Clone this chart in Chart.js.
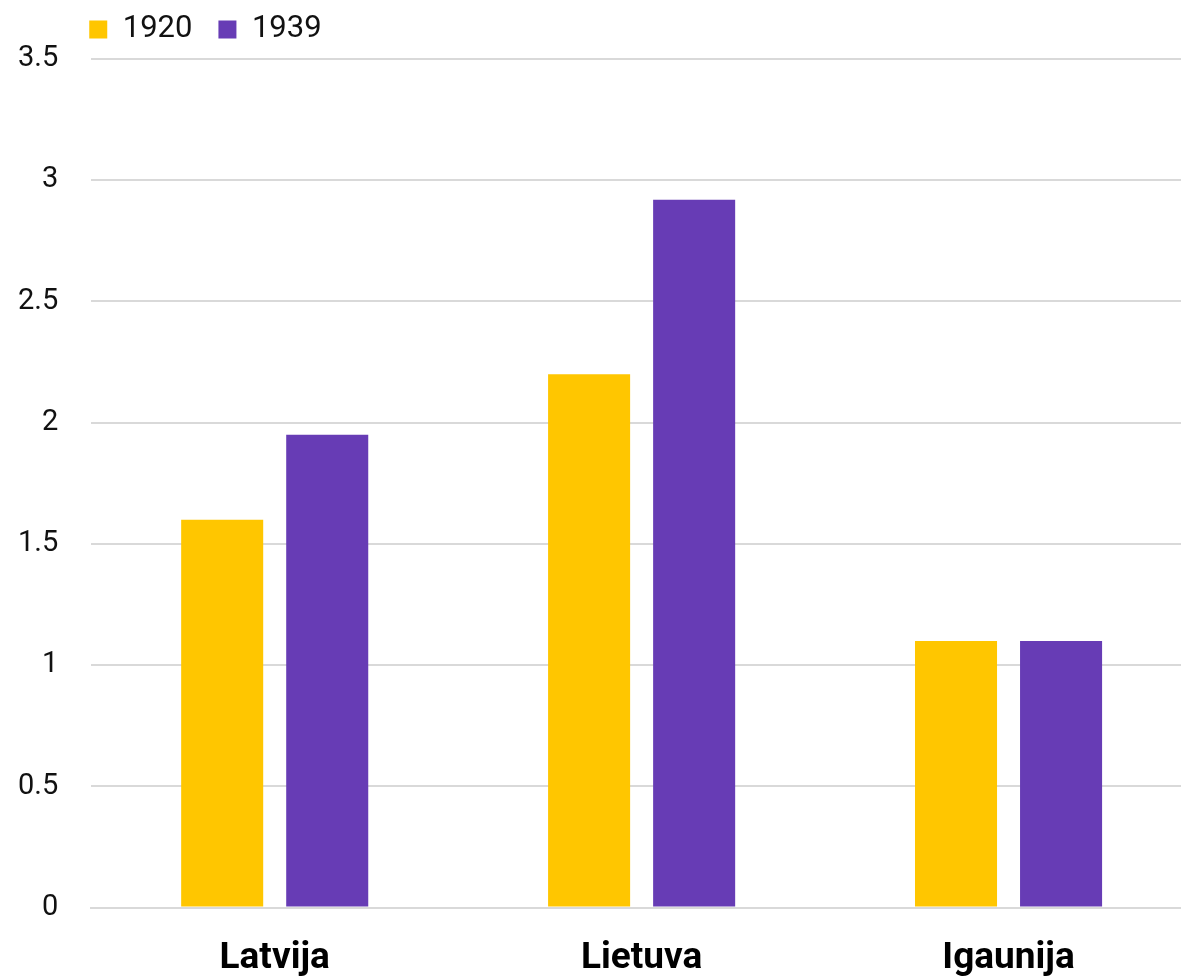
<!DOCTYPE html>
<html>
<head>
<meta charset="utf-8">
<script src="https://cdn.jsdelivr.net/npm/chart.js@4.4.0/dist/chart.umd.min.js"></script>
<style>
  html, body { margin: 0; padding: 0; background: #ffffff; }
  #wrap { position: relative; width: 1181px; height: 977px; }
</style>
</head>
<body>
<div id="wrap"><canvas id="c" width="1181" height="977"></canvas></div>
<script>
const categories = ["Latvija", "Lietuva", "Igaunija"];
const seriesNames = ["1920", "1939"];
const values1920 = [1.6, 2.2, 1.1];
const values1939 = [1.95, 2.92, 1.1];
const yTicks = [0, 0.5, 1, 1.5, 2, 2.5, 3, 3.5];

// The original plot area runs slightly past the right edge of the picture.
const layoutTweak = {
  id: "layoutTweak",
  afterLayout(chart) {
    const lg = chart.legend;
    if (lg) { lg.left -= 28; lg.right -= 28; lg.top -= 4; lg.bottom -= 4; }
    const extra = 11;
    const ca = chart.chartArea;
    ca.right += extra; ca.width += extra;
    const xs = chart.scales.x;
    xs.right += extra; xs.width += extra;
    xs.configure();
  }
};

new Chart(document.getElementById("c"), {
  type: "bar",
  data: {
    labels: categories,
    datasets: [
      { label: seriesNames[0], data: values1920, backgroundColor: "#FFC600" },
      { label: seriesNames[1], data: values1939, backgroundColor: "#673CB5" }
    ]
  },
  options: {
    responsive: false,
    animation: false,
    devicePixelRatio: 1,
    layout: { autoPadding: false, padding: { left: -15, right: 0, top: -8, bottom: -33 } },
    datasets: { bar: { categoryPercentage: 0.5726, barPercentage: 0.781 } },
    plugins: {
      legend: {
        position: "top",
        align: "start",
        fullSize: false,
        labels: {
          boxWidth: 18, boxHeight: 18, padding: 26,
          color: "#111111",
          font: { family: "Roboto", size: 31 }
        }
      },
      tooltip: { enabled: false }
    },
    scales: {
      x: {
        grid: { display: false, drawTicks: false },
        border: { display: true, color: "#d9d9d9", width: 2 },
        ticks: { color: "#000000", padding: 29, font: { family: "Roboto", size: 37, weight: "bold" } }
      },
      y: {
        min: 0, max: 3.5,
        afterBuildTicks: (axis) => { axis.ticks = yTicks.map(v => ({ value: v })); },
        grid: { color: "#d9d9d9", lineWidth: 2, drawTicks: false },
        border: { display: false },
        ticks: { color: "#111111", padding: 33, font: { family: "Roboto", size: 29 }, callback: (v) => String(v) }
      }
    }
  },
  plugins: [layoutTweak]
});
</script>
</body>
</html>
